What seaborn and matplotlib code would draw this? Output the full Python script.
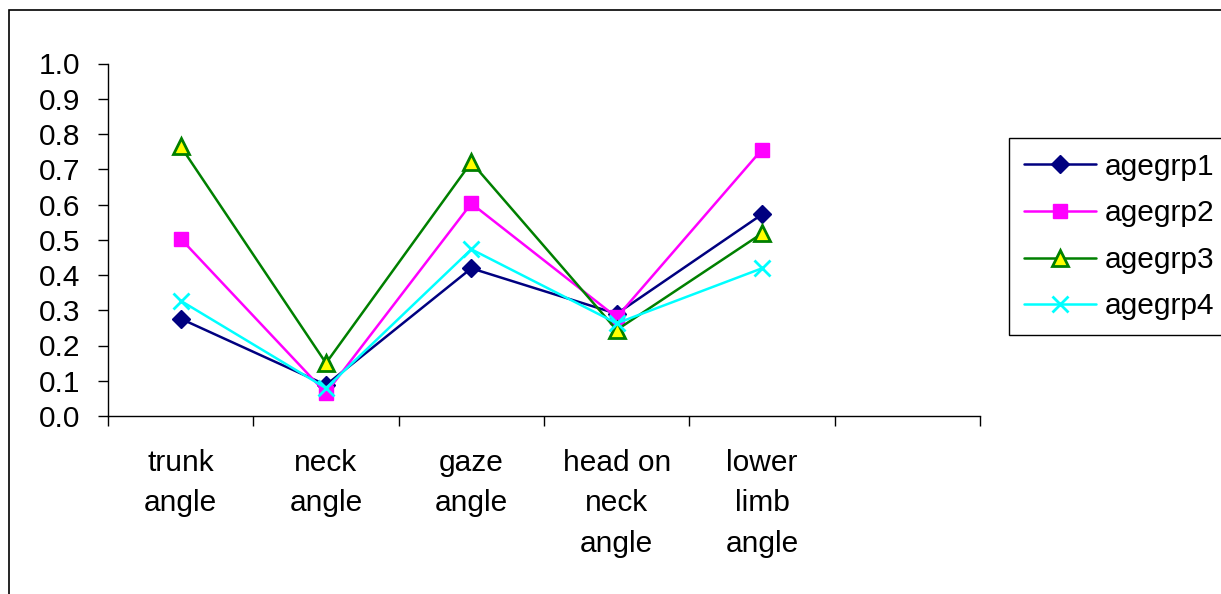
import matplotlib
matplotlib.use("Agg")
import matplotlib.pyplot as plt
import seaborn as sns
from matplotlib.patches import Rectangle
from matplotlib.ticker import FixedLocator, NullFormatter

categories = ["trunk\nangle", "neck\nangle", "gaze\nangle", "head on\nneck\nangle", "lower\nlimb\nangle"]
agegrp1 = [0.276, 0.088, 0.419, 0.290, 0.572]
agegrp2 = [0.503, 0.065, 0.603, 0.280, 0.756]
agegrp3 = [0.765, 0.150, 0.720, 0.244, 0.518]
agegrp4 = [0.327, 0.079, 0.473, 0.263, 0.419]
series_names = ["agegrp1", "agegrp2", "agegrp3", "agegrp4"]
y_ticks = [0.0, 0.1, 0.2, 0.3, 0.4, 0.5, 0.6, 0.7, 0.8, 0.9, 1.0]

sns.set_theme(style="white")
plt.rcParams["font.family"] = ["Liberation Sans", "DejaVu Sans"]
plt.rcParams["text.color"] = "black"
plt.rcParams["xtick.color"] = "black"
plt.rcParams["ytick.color"] = "black"

fig = plt.figure(figsize=(12.21, 5.94), dpi=100)
ax = fig.add_axes([108/1221, 1-416/594, (980-108)/1221, (416-63.5)/594])

styles = [
    dict(color="#000080", marker="D", markersize=9, markerfacecolor="#000080", markeredgecolor="#000080", markeredgewidth=1),
    dict(color="#FF00FF", marker="s", markersize=10.5, markerfacecolor="#FF00FF", markeredgecolor="#FF00FF", markeredgewidth=1),
    dict(color="#008000", marker="^", markersize=12, markerfacecolor="#FFFF00", markeredgecolor="#008000", markeredgewidth=2),
    dict(color="#00FFFF", marker="x", markersize=12, markerfacecolor="#00FFFF", markeredgecolor="#00FFFF", markeredgewidth=2),
]
data = [agegrp1, agegrp2, agegrp3, agegrp4]
x_idx = list(range(len(categories)))
for name, vals, st in zip(series_names, data, styles):
    sns.lineplot(x=x_idx, y=vals, ax=ax, linewidth=1.8, label=name, legend=False, **st)

if ax.get_legend() is not None:
    ax.get_legend().remove()

ax.set_xlim(-0.5, 5.5)
ax.set_ylim(0, 1.0)
ax.set_yticks(y_ticks)
ax.set_yticklabels([f"{v:.1f}" for v in y_ticks])

ax.xaxis.set_major_locator(FixedLocator([i - 0.5 for i in range(7)]))
ax.xaxis.set_major_formatter(NullFormatter())
ax.xaxis.set_minor_locator(FixedLocator(x_idx))
ax.set_xticklabels(categories, minor=True)
ax.tick_params(axis="x", which="major", direction="out", length=7, width=1, color="black", bottom=True)
ax.tick_params(axis="x", which="minor", length=0, pad=24, labelsize=21.5, labelcolor="black", bottom=True)
ax.tick_params(axis="y", which="major", direction="out", length=7, width=1, color="black", pad=13,
               labelsize=21.5, labelcolor="black", left=True)
for lbl in ax.get_xticklabels(minor=True):
    lbl.set_linespacing(1.55)
    lbl.set_horizontalalignment("center")

for s in ["top", "right"]:
    ax.spines[s].set_visible(False)
for s in ["left", "bottom"]:
    ax.spines[s].set_color("black")
    ax.spines[s].set_linewidth(1)
ax.set_xlabel("")
ax.set_ylabel("")

handles, labels = ax.get_legend_handles_labels()
leg = fig.legend(handles, labels, loc="upper left", bbox_to_anchor=(1009/1221, 1-138/594),
                 frameon=True, fancybox=False, shadow=False, framealpha=1, fontsize=21.5,
                 borderpad=0.5, labelspacing=0.62, handlelength=2.4, handletextpad=0.3,
                 borderaxespad=0, numpoints=1)
leg.get_frame().set_edgecolor("black")
leg.get_frame().set_linewidth(1)
for t in leg.get_texts():
    t.set_color("black")

fig.patches.append(Rectangle((9/1221, -0.05), 1.2, (1-10/594) + 0.05, transform=fig.transFigure,
                             fill=False, edgecolor="black", linewidth=1.2, zorder=0))

fig.savefig("out.png", dpi=100)
